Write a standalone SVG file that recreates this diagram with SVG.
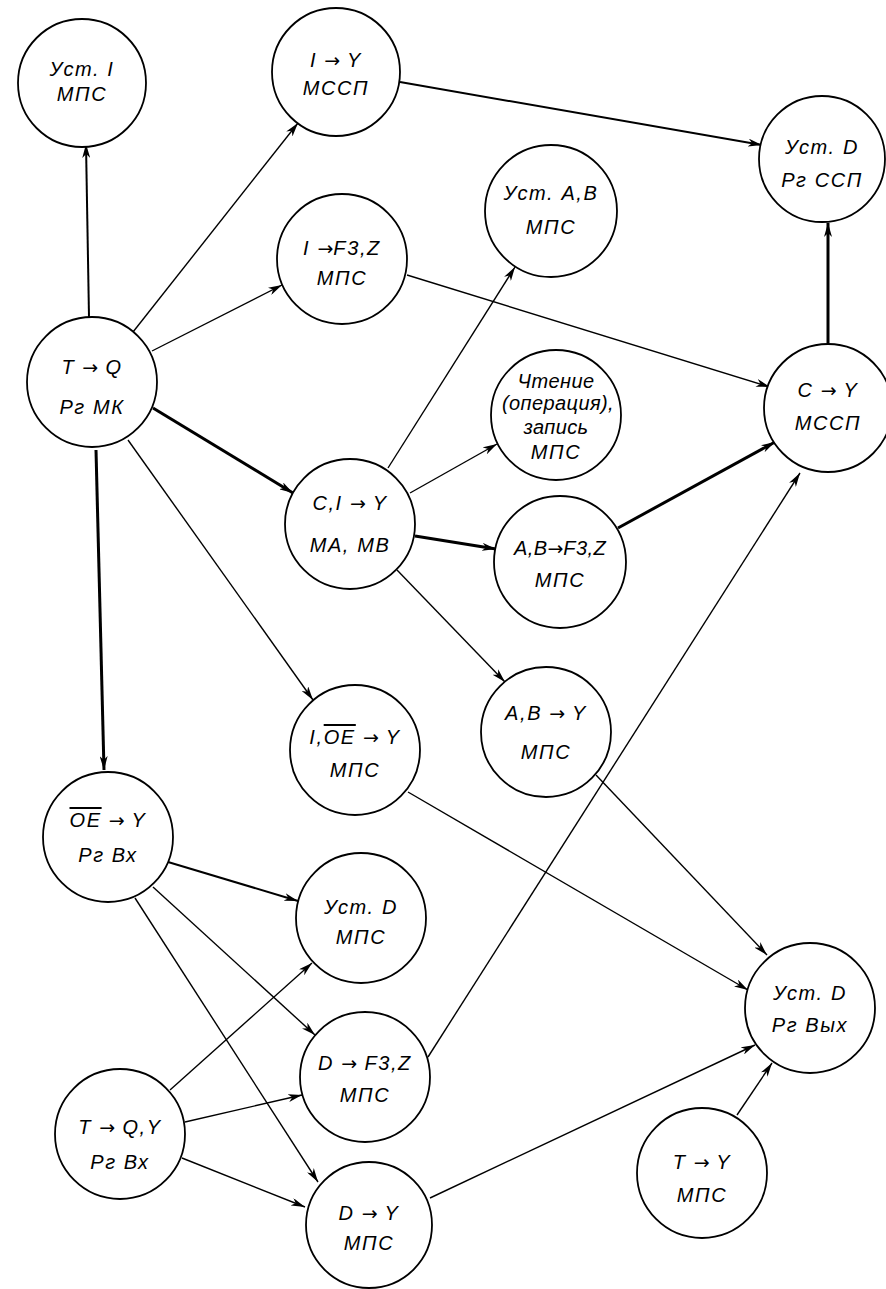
<svg xmlns="http://www.w3.org/2000/svg" width="886" height="1289" viewBox="0 0 886 1289">
<defs>
<marker id="ah" viewBox="0 0 14 8" refX="14" refY="4" markerWidth="14" markerHeight="8" markerUnits="userSpaceOnUse" orient="auto">
<path d="M0,0 L14,4 L0,8 L4,4 Z" fill="#000"/>
</marker>
<style>
.n circle{fill:#fff;stroke:#000;stroke-width:1.8}
.n text{font-family:"Liberation Sans","DejaVu Sans",sans-serif;font-style:italic;font-size:20px;fill:#000;text-anchor:middle;dominant-baseline:central;letter-spacing:1.6px}
.n .a{font-family:"DejaVu Sans",sans-serif;font-style:normal;font-size:19px;letter-spacing:0}
.n .c{letter-spacing:0.4px}
.e line{stroke:#000;fill:none;marker-end:url(#ah)}
.t1{stroke-width:1.4}
.t2{stroke-width:2}
.t3{stroke-width:3}
.ov{text-decoration:overline}
</style>
</defs>
<rect width="886" height="1289" fill="#fff"/>
<g id="connectors" class="e">
<line class="t2" x1="89" y1="317" x2="86" y2="144"/>
<line class="t1" x1="133" y1="332" x2="298" y2="123"/>
<line class="t1" x1="152" y1="351" x2="282" y2="285"/>
<line class="t3" x1="153" y1="408" x2="293" y2="493"/>
<line class="t1" x1="128" y1="440" x2="313" y2="700"/>
<line class="t3" x1="96" y1="450" x2="104" y2="770"/>
<line class="t2" x1="400" y1="82" x2="762" y2="145"/>
<line class="t1" x1="407" y1="275" x2="770" y2="387"/>
<line class="t1" x1="388" y1="468" x2="515" y2="267"/>
<line class="t1" x1="410" y1="493" x2="497" y2="444"/>
<line class="t3" x1="415" y1="536" x2="496" y2="549"/>
<line class="t1" x1="397" y1="570" x2="505" y2="682"/>
<line class="t3" x1="618" y1="528" x2="775" y2="442"/>
<line class="t3" x1="828" y1="343" x2="828" y2="223"/>
<line class="t1" x1="408" y1="792" x2="748" y2="990"/>
<line class="t1" x1="596" y1="775" x2="767" y2="955"/>
<line class="t2" x1="168" y1="862" x2="298" y2="901"/>
<line class="t1" x1="153" y1="887" x2="315" y2="1035"/>
<line class="t1" x1="135" y1="898" x2="318" y2="1182"/>
<line class="t1" x1="428" y1="1057" x2="800" y2="473"/>
<line class="t1" x1="170" y1="1090" x2="312" y2="963"/>
<line class="t1" x1="185" y1="1122" x2="302" y2="1095"/>
<line class="t1" x1="182" y1="1158" x2="305" y2="1207"/>
<line class="t1" x1="430" y1="1198" x2="755" y2="1045"/>
<line class="t1" x1="737" y1="1115" x2="772" y2="1063"/>
</g>
<g id="n1" class="n"><circle cx="82" cy="83" r="64"/><text x="82" y="69">Уст. I</text><text x="82" y="94">МПС</text></g>
<g id="n2" class="n"><circle cx="336" cy="72" r="64"/><text x="336" y="60">I <tspan class="a">→</tspan> Y</text><text x="336" y="88">МССП</text></g>
<g id="n3" class="n"><circle cx="342" cy="259" r="65"/><text x="342" y="248">I <tspan class="a">→</tspan>F3,Z</text><text x="342" y="278">МПС</text></g>
<g id="n4" class="n"><circle cx="551" cy="211" r="66"/><text x="551" y="193">Уст. A,B</text><text x="551" y="227">МПС</text></g>
<g id="n5" class="n"><circle cx="822" cy="159" r="63"/><text x="822" y="147">Уст. D</text><text x="822" y="180">Рг ССП</text></g>
<g id="n6" class="n"><circle cx="92" cy="382" r="65"/><text x="92" y="367">T <tspan class="a">→</tspan> Q</text><text x="92" y="407">Рг МК</text></g>
<g id="n7" class="n"><circle cx="350" cy="524" r="65"/><text x="350" y="503">C,I <tspan class="a">→</tspan> Y</text><text x="350" y="545">МА, МВ</text></g>
<g id="n8" class="n"><circle cx="556" cy="415" r="65"/><text class="c" x="556" y="381">Чтение</text><text class="c" x="558" y="403">(операция),</text><text class="c" x="556" y="427">запись</text><text x="556" y="452">МПС</text></g>
<g id="n9" class="n"><circle cx="828" cy="408" r="64"/><text x="828" y="390">C <tspan class="a">→</tspan> Y</text><text x="828" y="423">МССП</text></g>
<g id="n10" class="n"><circle cx="560" cy="562" r="66"/><text class="c" x="560" y="548">A,B<tspan class="a">→</tspan>F3,Z</text><text x="560" y="580">МПС</text></g>
<g id="n11" class="n"><circle cx="355" cy="750" r="65"/><text x="355" y="737">I,<tspan class="ov">OE</tspan> <tspan class="a">→</tspan> Y</text><text x="355" y="770">МПС</text></g>
<g id="n12" class="n"><circle cx="546" cy="732" r="65"/><text x="546" y="713">A,B <tspan class="a">→</tspan> Y</text><text x="546" y="752">МПС</text></g>
<g id="n13" class="n"><circle cx="108" cy="837" r="65"/><text x="108" y="820"><tspan class="ov">OE</tspan> <tspan class="a">→</tspan> Y</text><text x="108" y="855">Рг  Вх</text></g>
<g id="n14" class="n"><circle cx="361" cy="918" r="65"/><text x="361" y="907">Уст. D</text><text x="361" y="937">МПС</text></g>
<g id="n15" class="n"><circle cx="365" cy="1077" r="65"/><text x="365" y="1063">D <tspan class="a">→</tspan> F3,Z</text><text x="365" y="1095">МПС</text></g>
<g id="n16" class="n"><circle cx="120" cy="1134" r="65"/><text x="120" y="1127">T <tspan class="a">→</tspan> Q,Y</text><text x="120" y="1162">Рг  Вх</text></g>
<g id="n17" class="n"><circle cx="369" cy="1225" r="63"/><text x="369" y="1213">D <tspan class="a">→</tspan> Y</text><text x="369" y="1243">МПС</text></g>
<g id="n18" class="n"><circle cx="810" cy="1008" r="65"/><text x="810" y="993">Уст. D</text><text x="810" y="1025">Рг Вых</text></g>
<g id="n19" class="n"><circle cx="702" cy="1173" r="65"/><text x="702" y="1162">T <tspan class="a">→</tspan> Y</text><text x="702" y="1195">МПС</text></g>
</svg>
